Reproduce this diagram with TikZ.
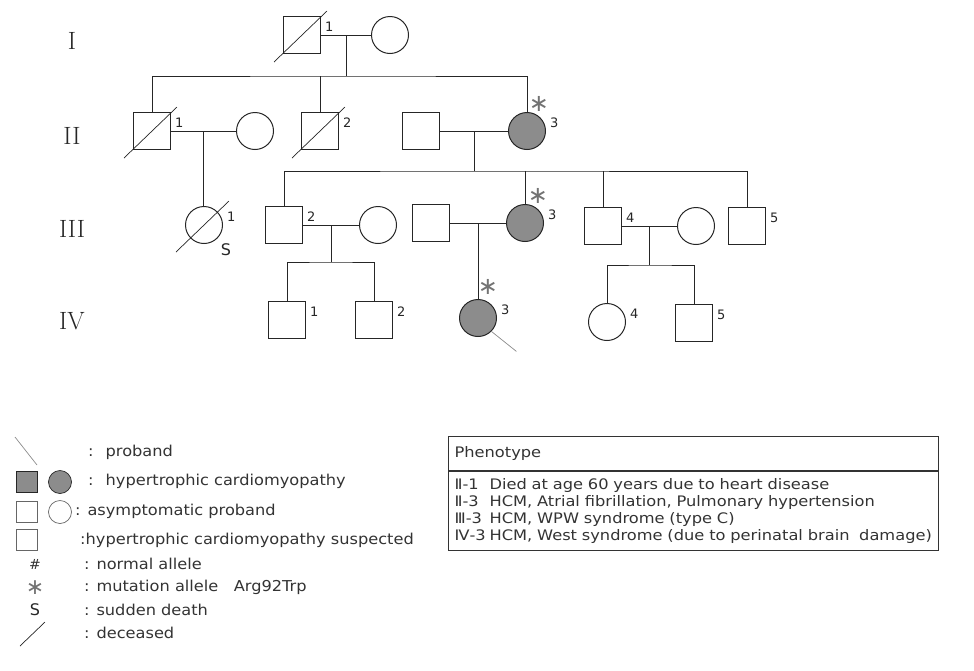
\documentclass[tikz,border=0pt]{standalone}
\usepackage{fontspec}
\setsansfont{DejaVu Sans}
\newfontfamily\legfont[FakeStretch=1.08]{DejaVu Sans}
\newfontfamily\boxfont[FakeStretch=1.12]{DejaVu Sans}
\usetikzlibrary{calc}

\tikzset{
	male/.style={draw=black!85, rectangle, minimum size=37pt, inner sep=0pt, line width=1pt},
	female/.style={draw=black!85, circle, minimum size=37pt, inner sep=0pt, line width=1pt},
	hcm/.style={fill=black!45},
	ped/.style={line width=1pt, black!85},
	dead/.style={line width=.7pt, black!85},
	prob/.style={line width=.7pt, black!45},
	num/.style={font=\sffamily\fontsize{13}{13}\selectfont, inner sep=0pt, text=black!85},
	no/.style={label={[num, xshift=4pt, yshift=8pt]east:#1}},
	mut/.style={inner sep=0pt, text=black!55, font=\sffamily\fontsize{24}{24}\selectfont},
	gen/.style={font=\fontsize{25}{25}\selectfont, text=black!85},
	leg/.style={font=\legfont\fontsize{15}{17}\selectfont, anchor=west, inner sep=0pt, text=black!80},
	legsym/.style={minimum size=21pt, line width=.7pt},
	pbox/.style={draw=black!80, line width=1.2pt, anchor=north west, text width=478pt, inner xsep=6pt, align=left, font=\boxfont\fontsize{14.5}{17}\selectfont, text=black!80}
}

\begin{document}
\begin{tikzpicture}[x=1pt, y=-1pt]
	\useasboundingbox (0,0) rectangle (974,670);
	\foreach \g/\y in {I/41, II/136, III/229, IV/321}
		\node[gen] (g\g) at (72,\y) {\g};

	\node[male, no=1] (I1) at (302,35) {};
	\node[female] (I2) at (390,35) {};
	\node[male, no=1] (II1) at (152,131) {};
	\node[female] (II1w) at (255,131) {};
	\node[male, no=2] (II2) at (320,131) {};
	\node[male] (II3h) at (421,131) {};
	\node[female, hcm, no=3] (II3) at (527,131) {};
	\node[female, no=1] (III1) at (204,225) {};
	\node[male, no=2] (III2) at (284,225) {};
	\node[female] (III2w) at (378,225) {};
	\node[male] (III3h) at (431,223) {};
	\node[female, hcm, no=3] (III3) at (525,223) {};
	\node[male, no=4] (III4) at (603,226) {};
	\node[female] (III4w) at (696,226) {};
	\node[male, no=5] (III5) at (747,226) {};
	\node[male, no=1] (IV1) at (287,320) {};
	\node[male, no=2] (IV2) at (374,320) {};
	\node[female, hcm, no=3] (IV3) at (478,318) {};
	\node[female, no=4] (IV4) at (607,322) {};
	\node[male, no=5] (IV5) at (694,323) {};

	\draw[ped] (I1) -- (I2);
	\coordinate (mI) at ($(I1)!.5!(I2)$);
	\coordinate (sI) at ($(mI)+(0,41)$);
	\draw[ped] (mI) -- (sI);
	\draw[ped] (II1.north) |- (sI) -| (II3.north);
	\draw[ped] (II2.north) -- (II2.north |- sI);

	\draw[ped] (II1) -- (II1w);
	\coordinate (mII1) at ($(II1)!.5!(II1w)$);
	\draw[ped] (mII1) -- (mII1 |- III1.north);

	\draw[ped] (II3h) -- (II3);
	\coordinate (mII3) at ($(II3h)!.5!(II3)$);
	\coordinate (sII) at ($(mII3)+(0,40)$);
	\draw[ped] (mII3) -- (sII);
	\draw[ped] (III2.north) |- (sII) -| (III5.north);
	\foreach \k in {III3, III4}
		\draw[ped] (\k.north) -- (\k.north |- sII);

	\draw[ped] (III2) -- (III2w);
	\coordinate (mIII2) at ($(III2)!.5!(III2w)$);
	\coordinate (sIII2) at ($(mIII2)+(0,37)$);
	\draw[ped] (mIII2) -- (sIII2);
	\draw[ped] (IV1.north) |- (sIII2) -| (IV2.north);

	\draw[ped] (III3h) -- (III3);
	\coordinate (mIII3) at ($(III3h)!.5!(III3)$);
	\draw[ped] (mIII3) -- (mIII3 |- IV3.north);

	\draw[ped] (III4) -- (III4w);
	\coordinate (mIII4) at ($(III4)!.5!(III4w)$);
	\coordinate (sIII4) at ($(mIII4)+(0,39)$);
	\draw[ped] (mIII4) -- (sIII4);
	\draw[ped] (IV4.north) |- (sIII4) -| (IV5.north);

	\foreach \d in {I1, II1, II2, III1}
		\draw[dead] ($(\d)+(-28,27)$) -- ($(\d)+(25,-24)$);
	\node[mut] (aII3) at ($(II3)+(12,-27)$) {∗};
	\node[mut] (aIII3) at ($(III3)+(13,-27)$) {∗};
	\node[mut] (aIV3) at ($(IV3)+(10,-31)$) {∗};
	\node[font=\sffamily\fontsize{16}{16}\selectfont, text=black!85] (sIII1) at ($(III1)+(22,25)$) {S};
	\coordinate (pIV3) at ($(IV3.-45)+(25,20)$);
	\draw[prob] (IV3.-45) -- (pIV3);

	\coordinate (lp1) at (15,437);
	\coordinate (lp2) at (37,465);
	\draw[prob] (lp1) -- (lp2);
	\node[leg] (lprob) at (88,452) {:\hspace{12pt}proband};
	\node[male, hcm, legsym] (lsq1) at (27,482) {};
	\node[female, hcm, legsym, minimum size=23pt] (lci1) at (60,482) {};
	\node[leg] (lhcm) at (88,481) {:\hspace{12pt}hypertrophic cardiomyopathy};
	\node[male, legsym, draw=black!60] (lsq2) at (27,512) {};
	\node[female, legsym, draw=black!60, minimum size=23pt] (lci2) at (60,512) {};
	\node[leg] (lasym) at (75,511) {: asymptomatic proband};
	\node[male, legsym, draw=black!60] (lsq3) at (27,540) {};
	\node[leg] (lsusp) at (80,540) {:hypertrophic cardiomyopathy suspected};
	\node[font=\sffamily\fontsize{14}{14}\selectfont, text=black!80, inner sep=0pt] (lhash) at (35,564) {\#};
	\node[leg] (lnorm) at (84,564) {: normal allele};
	\node[mut, font=\sffamily\fontsize{22}{22}\selectfont] (last) at (35,588) {∗};
	\node[leg] (lmut) at (84,587) {: mutation allele\ \ \ Arg92Trp};
	\node[font=\sffamily\fontsize{16}{16}\selectfont, text=black!85, inner sep=0pt] (lS) at (35,610) {S};
	\node[leg] (lsud) at (84,610) {: sudden death};
	\coordinate (ld1) at (20,646);
	\coordinate (ld2) at (45,622);
	\draw[dead] (ld1) -- (ld2);
	\node[leg] (ldec) at (84,633) {: deceased};

	\node[pbox, minimum height=34pt] (phead) at (448,436) {Phenotype};
	\node[pbox, minimum height=79pt] (pbody) at (phead.south west) {%
		\makebox[35pt][l]{Ⅱ-1}Died at age 60 years due to heart disease\\
		\makebox[35pt][l]{Ⅱ-3}HCM, Atrial fibrillation, Pulmonary hypertension\\
		\makebox[35pt][l]{Ⅲ-3}HCM, WPW syndrome (type C)\\
		\makebox[35pt][l]{Ⅳ-3}HCM, West syndrome (due to perinatal brain\ \ damage)};
\end{tikzpicture}
\end{document}
